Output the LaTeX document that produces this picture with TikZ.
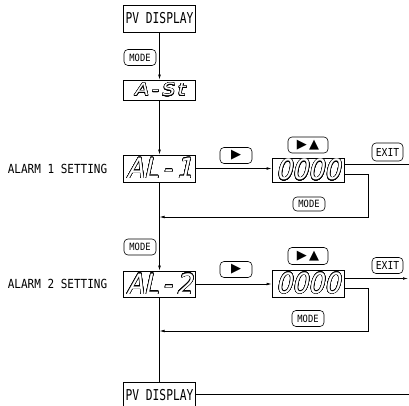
\documentclass[tikz,border=0pt]{standalone}
\usepackage{fontspec}
\usepackage{contour}
\usepackage{tikz}
\usetikzlibrary{arrows.meta,positioning}
\newfontfamily\dispfont[FakeStretch=0.75]{DejaVu Sans Mono}
\newfontfamily\labfont[FakeStretch=0.88]{DejaVu Sans Mono}
\newfontfamily\segfont[FakeSlant=0.22,FakeStretch=0.9]{DejaVu Sans}
\newfontfamily\segwide[FakeSlant=0.22,FakeStretch=1.2]{DejaVu Sans}
\newfontfamily\symfont{DejaVu Sans}
\contourlength{0.5pt}
\contournumber{24}
\newcommand\segtext[1]{\contour{black}{\textcolor{white}{#1}}}

\begin{document}
\begin{tikzpicture}[
    x=1pt, y=-1pt,
    line width=0.6pt,
    panel/.style={draw, inner sep=0pt, minimum width=72pt, minimum height=27pt, font=\dispfont\fontsize{15}{15}\selectfont},
    seg/.style={draw, inner sep=0pt, minimum width=72pt, minimum height=27pt, font=\segfont\fontsize{28}{28}\selectfont},
    key/.style={draw, rounded corners=4pt, inner sep=0pt, minimum width=32pt, minimum height=16pt, font=\labfont\fontsize{10}{10}\selectfont},
    symkey/.style={key, font=\symfont\fontsize{13}{13}\selectfont},
    caption/.style={font=\labfont\fontsize{12.5}{12.5}\selectfont},
    arrow/.style={-{Latex[length=5pt,width=2.6pt]}}
]
\useasboundingbox (0,0) rectangle (409,405);

% main column
\node[panel] (pv1) at (159.5,18.5) {PV DISPLAY};
\node[key] (mode1) at (140,57.5) {MODE};
\node[seg, minimum height=20pt, font=\segwide\fontsize{17}{17}\selectfont] (ast) at (159.5,90) {\segtext{A\,-\,S\,t}};
\node[seg] (al1) at (159.5,168.5) {\segtext{AL\,-\,1}};
\node[key] (mode3) at (140,247) {MODE};
\node[seg, minimum height=26pt] (al2) at (159.5,284) {\segtext{AL\,-\,2}};
\node[panel, minimum height=25pt, anchor=north] (pv2) at (159.5,382) {PV DISPLAY};

\node[caption] (lab1) at (57.5,169) {ALARM 1 SETTING};
\node[caption] (lab2) at (57.5,283.5) {ALARM 2 SETTING};

% alarm 1 value
\node[symkey] (right1) at (236,155.5) {▶};
\node[seg, minimum height=24pt] (val1) at (308,170) {\segtext{0000}};
\node[symkey, minimum width=40pt] (both1) at (308,145) {▶\,▲};
\node[key, minimum width=31pt, minimum height=18pt, font=\labfont\fontsize{11}{11}\selectfont] (exit1) at (387.5,152) {EXIT};
\node[key, minimum height=14pt] (mode2) at (309,204) {MODE};

% alarm 2 value
\node[symkey] (right2) at (236,269.5) {▶};
\node[seg] (val2) at (308,283.5) {\segtext{0000}};
\node[symkey, minimum width=40pt, minimum height=17pt] (both2) at (308,256) {▶\,▲};
\node[key, minimum width=31pt, minimum height=16pt, font=\labfont\fontsize{11}{11}\selectfont] (exit2) at (387.5,265.5) {EXIT};
\node[key] (mode4) at (308,318.5) {MODE};

\coordinate (out1) at (409,164);
\coordinate (out2) at (408,278.5);
\coordinate (out3) at (409,394);
\coordinate (turn1) at (368,174);
\coordinate (turn2) at (368,288);
\coordinate (back1) at (159.5,217);
\coordinate (back2) at (159.5,331);

\draw[arrow] (pv1) -- (ast);
\draw[arrow] (ast) -- (al1);
\draw[arrow] (al1) -- (al2);
\draw (al2) -- (pv2);

\draw[arrow] (al1.east) -- (al1.east -| val1.west);
\draw (out1 -| val1.east) -- (out1);
\draw[arrow] (turn1 -| val1.east) -- (turn1) -- (turn1 |- back1) -- (back1);

\draw[arrow] (al2.east) -- (al2.east -| val2.west);
\draw[arrow] (out2 -| val2.east) -- (out2);
\draw[arrow] (turn2 -| val2.east) -- (turn2) -- (turn2 |- back2) -- (back2);

\draw (pv2.east |- out3) -- (out3);
\end{tikzpicture}
\end{document}
